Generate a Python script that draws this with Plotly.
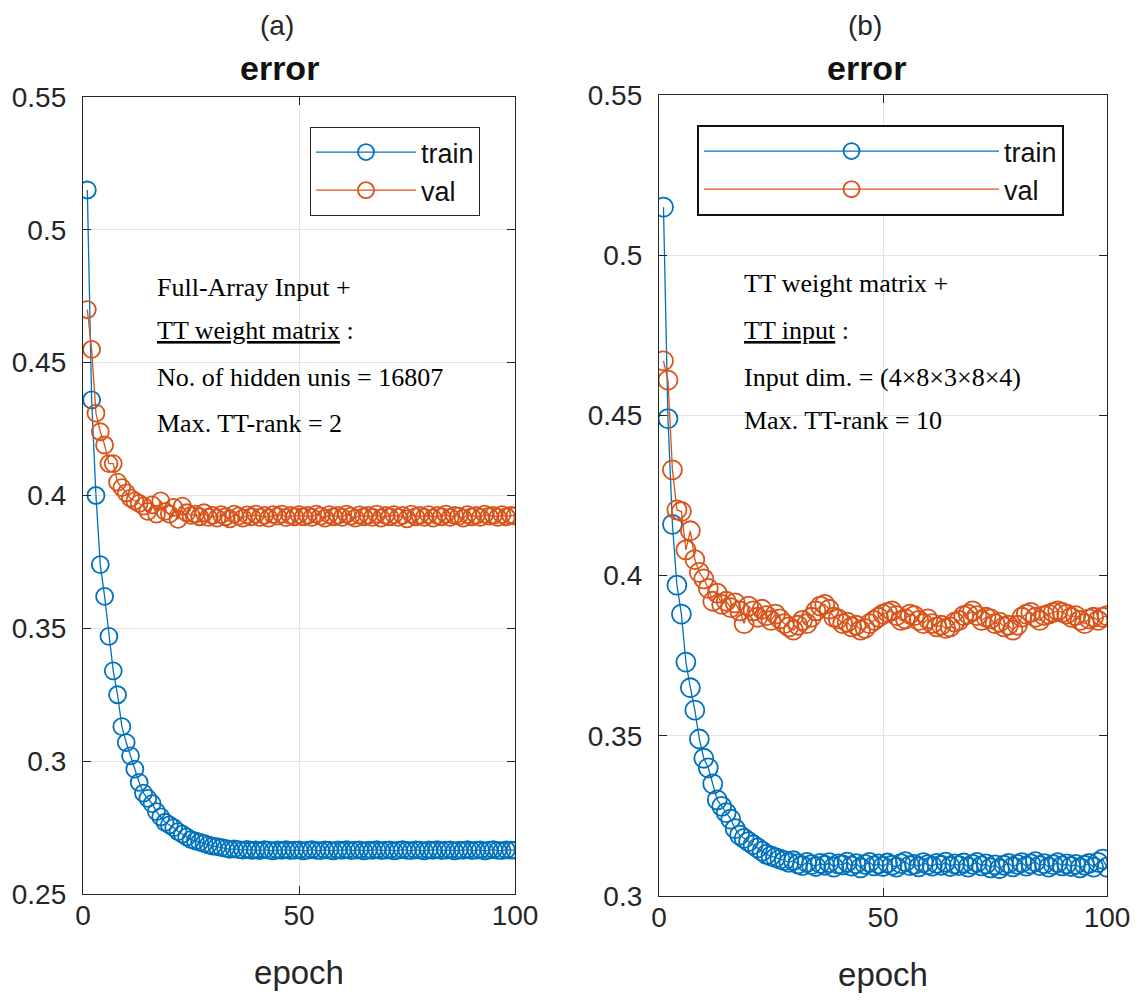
import plotly.graph_objects as go

epochs = list(range(1, 101))

a_train = [0.515, 0.436, 0.400, 0.374, 0.362, 0.347, 0.334, 0.325, 0.313, 0.307,
           0.302, 0.297, 0.292, 0.288, 0.286, 0.284, 0.281, 0.279, 0.277, 0.276,
           0.275, 0.2735, 0.2725, 0.2715, 0.2705, 0.2700, 0.2695, 0.2690, 0.2685, 0.2680,
           0.2678, 0.2675, 0.2672, 0.2668, 0.2670, 0.2667, 0.2665, 0.2668, 0.2664, 0.2666,
           0.2663, 0.2667, 0.2665, 0.2662, 0.2666, 0.2664, 0.2667, 0.2663, 0.2665, 0.2666,
           0.2662, 0.2665, 0.2667, 0.2664, 0.2663, 0.2666, 0.2665, 0.2662, 0.2666, 0.2664,
           0.2667, 0.2663, 0.2665, 0.2666, 0.2662, 0.2665, 0.2664, 0.2667, 0.2663, 0.2665,
           0.2666, 0.2662, 0.2665, 0.2667, 0.2664, 0.2663, 0.2666, 0.2665, 0.2662, 0.2666,
           0.2664, 0.2667, 0.2663, 0.2665, 0.2666, 0.2662, 0.2665, 0.2664, 0.2667, 0.2663,
           0.2665, 0.2666, 0.2662, 0.2665, 0.2667, 0.2664, 0.2663, 0.2666, 0.2665, 0.2665]

a_val = [0.470, 0.455, 0.431, 0.424, 0.419, 0.412, 0.412, 0.405, 0.403, 0.401,
         0.399, 0.398, 0.397, 0.396, 0.394, 0.3965, 0.393, 0.398, 0.394, 0.393,
         0.3955, 0.391, 0.396, 0.3935, 0.3925, 0.3930, 0.3920, 0.3935, 0.3918, 0.3925,
         0.3915, 0.3928, 0.3920, 0.3912, 0.3930, 0.3922, 0.3915, 0.3927, 0.3920, 0.3930,
         0.3918, 0.3925, 0.3915, 0.3928, 0.3922, 0.3930, 0.3917, 0.3925, 0.3920, 0.3928,
         0.3920, 0.3925, 0.3918, 0.3930, 0.3922, 0.3915, 0.3928, 0.3920, 0.3925, 0.3918,
         0.3930, 0.3922, 0.3915, 0.3927, 0.3920, 0.3925, 0.3918, 0.3930, 0.3915, 0.3925,
         0.3920, 0.3928, 0.3918, 0.3925, 0.3912, 0.3930, 0.3920, 0.3925, 0.3918, 0.3928,
         0.3915, 0.3925, 0.3920, 0.3930, 0.3918, 0.3925, 0.3922, 0.3915, 0.3928, 0.3920,
         0.3925, 0.3918, 0.3930, 0.3922, 0.3925, 0.3918, 0.3928, 0.3920, 0.3925, 0.3923]

b_train = [0.515, 0.449, 0.416, 0.397, 0.388, 0.373, 0.365, 0.358, 0.349, 0.343,
           0.340, 0.335, 0.330, 0.328, 0.326, 0.324, 0.321, 0.319, 0.318, 0.317,
           0.316, 0.315, 0.314, 0.313, 0.3125, 0.3120, 0.3115, 0.3110, 0.3105, 0.3110,
           0.3100, 0.3095, 0.3105, 0.3098, 0.3092, 0.3102, 0.3096, 0.3104, 0.3090, 0.3100,
           0.3097, 0.3106, 0.3093, 0.3101, 0.3088, 0.3099, 0.3105, 0.3094, 0.3100, 0.3092,
           0.3103, 0.3096, 0.3090, 0.3101, 0.3107, 0.3095, 0.3099, 0.3091, 0.3104, 0.3098,
           0.3093, 0.3102, 0.3096, 0.3106, 0.3092, 0.3100, 0.3095, 0.3103, 0.3090, 0.3099,
           0.3105, 0.3094, 0.3100, 0.3088, 0.3097, 0.3085, 0.3096, 0.3102, 0.3091, 0.3099,
           0.3104, 0.3093, 0.3100, 0.3107, 0.3095, 0.3101, 0.3090, 0.3098, 0.3104, 0.3094,
           0.3100, 0.3092, 0.3099, 0.3088, 0.3096, 0.3102, 0.3090, 0.3105, 0.3115, 0.3090]

b_val = [0.467, 0.461, 0.433, 0.4205, 0.420, 0.408, 0.414, 0.405, 0.401, 0.399,
         0.396, 0.392, 0.3945, 0.391, 0.392, 0.390, 0.3915, 0.389, 0.385, 0.3905,
         0.389, 0.387, 0.3895, 0.3875, 0.386, 0.388, 0.3865, 0.385, 0.384, 0.383,
         0.3845, 0.386, 0.385, 0.387, 0.389, 0.3905, 0.391, 0.3895, 0.387, 0.3865,
         0.385, 0.3855, 0.384, 0.3845, 0.383, 0.3835, 0.385, 0.386, 0.387, 0.388,
         0.3885, 0.389, 0.3875, 0.386, 0.3865, 0.388, 0.3875, 0.386, 0.385, 0.3865,
         0.385, 0.384, 0.3845, 0.3835, 0.384, 0.3855, 0.386, 0.3875, 0.388, 0.389,
         0.3875, 0.386, 0.387, 0.3865, 0.385, 0.3855, 0.384, 0.3845, 0.383, 0.3845,
         0.387, 0.388, 0.3885, 0.387, 0.386, 0.3875, 0.388, 0.3885, 0.389, 0.3885,
         0.388, 0.387, 0.3875, 0.386, 0.385, 0.3865, 0.387, 0.386, 0.387, 0.3875]

a_yticks = [0.25, 0.3, 0.35, 0.4, 0.45, 0.5, 0.55]
a_ytext = ["0.25", "0.3", "0.35", "0.4", "0.45", "0.5", "0.55"]
b_yticks = [0.3, 0.35, 0.4, 0.45, 0.5, 0.55]
b_ytext = ["0.3", "0.35", "0.4", "0.45", "0.5", "0.55"]
x_ticks = [0, 50, 100]

a_text = ["Full-Array Input +", "<u>TT weight matrix</u> :",
          "No. of hidden unis = 16807", "Max. TT-rank = 2"]
b_text = ["TT weight matrix +", "<u>TT input</u> :",
          "Input dim. = (4×8×3×8×4)", "Max. TT-rank = 10"]

BLUE = "#0072BD"
ORANGE = "#D95319"
AX = "#262626"
OFF = 8                      # page body margin
W, H = 1146 - OFF, 1001 - OFF
FONT = "Liberation Sans"

def fx(px):
    return (px - OFF) / W

def fy(py):
    return 1 - (py - OFF) / H

fig = go.Figure()

def add(x, y, name, color, xa, ya, leg, size):
    fig.add_trace(go.Scatter(
        x=x, y=y, name=name, mode="lines+markers", xaxis=xa, yaxis=ya, legend=leg,
        line=dict(color=color, width=1.3),
        marker=dict(symbol="circle-open", size=size, color=color, line=dict(width=1.8, color=color)),
    ))

add(epochs, a_train, "train", BLUE, "x", "y", "legend", 17)
add(epochs, a_val, "val", ORANGE, "x", "y", "legend", 17)
add(epochs, b_train, "train", BLUE, "x2", "y2", "legend2", 19)
add(epochs, b_val, "val", ORANGE, "x2", "y2", "legend2", 19)

axis_common = dict(
    showline=True, linecolor=AX, linewidth=1.3, mirror="ticks", automargin=False,
    ticks="inside", ticklen=8, tickcolor=AX, tickwidth=1.3,
    showgrid=True, gridcolor="#e3e3e3", gridwidth=1, zeroline=False,
    tickfont=dict(family=FONT, size=28, color=AX),
)
xt = dict(text="epoch", font=dict(family=FONT, size=33, color=AX), standoff=31)

fig.update_layout(
    width=W, height=H,
    margin=dict(l=0, r=0, t=0, b=0, autoexpand=False),
    paper_bgcolor="white", plot_bgcolor="white",
    showlegend=True,
    xaxis=dict(domain=[fx(83), fx(515)], range=[0, 100], tickvals=x_ticks, anchor="y",
               title=xt, ticklabelstandoff=-4, **axis_common),
    yaxis=dict(domain=[fy(894), fy(97)], range=[0.25, 0.55], tickvals=a_yticks,
               ticktext=a_ytext, anchor="x", ticklabelstandoff=10, **axis_common),
    xaxis2=dict(domain=[fx(659), fx(1107)], range=[0, 100], tickvals=x_ticks, anchor="y2",
                title=xt, ticklabelstandoff=-4, **axis_common),
    yaxis2=dict(domain=[fy(896), fy(95)], range=[0.3, 0.55], tickvals=b_yticks,
                ticktext=b_ytext, anchor="x2", ticklabelstandoff=10, **axis_common),
    legend=dict(x=fx(310), y=fy(127), xanchor="left", yanchor="top",
                bgcolor="white", bordercolor=AX, borderwidth=1,
                font=dict(family=FONT, size=27, color="#111111"), tracegroupgap=0,
                itemwidth=100),
    legend2=dict(x=fx(697), y=fy(125), xanchor="left", yanchor="top",
                 bgcolor="white", bordercolor="#111111", borderwidth=2,
                 font=dict(family=FONT, size=27, color="#111111"), tracegroupgap=0,
                 itemwidth=295),
)

ann = []
for lab, cx in (("(a)", 277), ("(b)", 865)):
    ann.append(dict(text=lab, x=fx(cx), y=fy(26), xref="paper", yref="paper",
                    xanchor="center", yanchor="middle",
                    showarrow=False, font=dict(family=FONT, size=28, color=AX)))
for cx in (279, 866):
    ann.append(dict(text="<b>error</b>", x=fx(cx), y=fy(68), xref="paper", yref="paper",
                    xanchor="center", yanchor="middle",
                    showarrow=False, font=dict(family=FONT, size=34, color="#111111")))

a_ys = [287, 331, 377, 423]
for t, yy in zip(a_text, a_ys):
    ann.append(dict(text=t, x=fx(155), y=fy(yy), xref="paper", yref="paper",
                    xanchor="left", yanchor="middle", showarrow=False,
                    font=dict(family="Liberation Serif", size=26, color="black")))
b_ys = [283, 330, 377, 420]
for t, yy in zip(b_text, b_ys):
    ann.append(dict(text=t, x=fx(742), y=fy(yy), xref="paper", yref="paper",
                    xanchor="left", yanchor="middle", showarrow=False,
                    font=dict(family="Liberation Serif", size=26, color="black")))

fig.update_layout(annotations=ann)
fig.write_html("out.html")
